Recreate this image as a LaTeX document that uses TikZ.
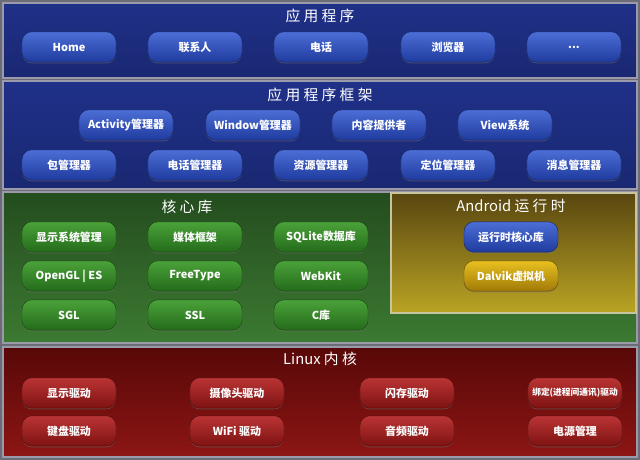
\documentclass[tikz,border=0pt]{standalone}
\usepackage{fontspec}
\setmainfont{Noto Sans CJK SC}
\usetikzlibrary{shadows}
\definecolor{navytop}{HTML}{1F3088}
\definecolor{navybot}{HTML}{1A2872}
\definecolor{frame}{HTML}{9A9AAA}
\definecolor{bluetop}{HTML}{4C6ED6}
\definecolor{bluebot}{HTML}{1F3B9E}
\definecolor{greentop}{HTML}{4BA23A}
\definecolor{greenbot}{HTML}{246B1A}
\definecolor{redtop}{HTML}{BA3434}
\definecolor{redbot}{HTML}{7E1212}
\definecolor{goldtop}{HTML}{E8C020}
\definecolor{goldbot}{HTML}{A07A08}
\tikzset{layer/.style={draw=frame, line width=1.2pt},
  btn/.style={rounded corners=7pt, minimum width=2.35cm, minimum height=0.76cm,
    text=white, font=\fontsize{7.8}{8}\selectfont\bfseries, inner sep=0pt, line width=0.3pt,
    drop shadow={opacity=0.45, shadow xshift=0pt, shadow yshift=-0.8pt}},
  bluebtn/.style={btn, top color=bluetop, bottom color=bluebot, draw=bluebot!60!black},
  greenbtn/.style={btn, top color=greentop, bottom color=greenbot, draw=greenbot!60!black},
  redbtn/.style={btn, top color=redtop, bottom color=redbot, draw=redbot!60!black},
  goldbtn/.style={btn, top color=goldtop, bottom color=goldbot, draw=goldbot!60!black},
  title/.style={text=white, font=\fontsize{10.5}{12}\selectfont}}

\begin{document}
\begin{tikzpicture}[x=0.025cm, y=-0.025cm]
      \fill [frame!70!black] (0, 0) rectangle (640, 460);

      % layers
      \draw [layer, top color=navytop, bottom color=navybot] (3, 3) rectangle (637, 78);
      \draw [layer, top color=navytop, bottom color=navybot] (3, 81) rectangle (637, 189);
      \draw [layer, top color={rgb,255:red,36;green,76;blue,30}, bottom color={rgb,255:red,60;green,122;blue,50}] (3, 192) rectangle (637, 343);
      \draw [draw={rgb,255:red,200;green,196;blue,160}, line width=1.2pt, top color={rgb,255:red,88;green,70;blue,16}, bottom color={rgb,255:red,186;green,164;blue,36}] (391, 193) rectangle (636, 313);
      \draw [layer, top color={rgb,255:red,88;green,8;blue,8}, bottom color={rgb,255:red,140;green,22;blue,20}] (3, 347) rectangle (637, 457);

      \node [title] (tapp) at (320, 16) {应 用 程 序};
      \node (home) [bluebtn] at (69, 47) {Home};
      \node (contacts) [bluebtn] at (195, 47) {联系人};
      \node (phone) [bluebtn] at (321, 47) {电话};
      \node (browser) [bluebtn] at (448, 47) {浏览器};
      \node (more) [bluebtn] at (574, 47) {...};

      \node [title] (tfw) at (320, 95) {应 用 程 序 框 架};
      \node (activity) [bluebtn] at (126, 125) {Activity管理器};
      \node (window) [bluebtn] at (253, 125) {Window管理器};
      \node (provider) [bluebtn] at (379, 125) {内容提供者};
      \node (view) [bluebtn] at (505, 125) {View系统};
      \node (package) [bluebtn] at (69, 165) {包管理器};
      \node (telephony) [bluebtn] at (195, 165) {电话管理器};
      \node (resource) [bluebtn] at (321, 165) {资源管理器};
      \node (location) [bluebtn] at (448, 165) {定位管理器};
      \node (notify) [bluebtn] at (574, 165) {消息管理器};

      \node [title] (tlib) at (187, 207) {核 心 库};
      \node (surface) [greenbtn] at (69, 237) {显示系统管理};
      \node (media) [greenbtn] at (195, 237) {媒体框架};
      \node (sqlite) [greenbtn] at (321, 237) {SQLite数据库};
      \node (opengl) [greenbtn] at (69, 276) {OpenGL | ES};
      \node (freetype) [greenbtn] at (195, 276) {FreeType};
      \node (webkit) [greenbtn] at (321, 276) {WebKit};
      \node (sgl) [greenbtn] at (69, 315) {SGL};
      \node (ssl) [greenbtn] at (195, 315) {SSL};
      \node (libc) [greenbtn] at (321, 315) {C库};

      \node [title] (trt) at (511, 206) {Android 运 行 时};
      \node (corelib) [bluebtn] at (511, 237) {运行时核心库};
      \node (dalvik) [goldbtn] at (511, 276) {Dalvik虚拟机};

      \node [title] (tkernel) at (320, 359) {Linux 内 核};
      \node (display) [redbtn] at (69, 393) {显示驱动};
      \node (camera) [redbtn] at (237, 393) {摄像头驱动};
      \node (flash) [redbtn] at (407, 393) {闪存驱动};
      \node (binder) [redbtn, font=\fontsize{6.2}{7}\selectfont\bfseries] at (575, 393) {绑定(进程间通讯)驱动};
      \node (keypad) [redbtn] at (69, 431) {键盘驱动};
      \node (wifi) [redbtn] at (237, 431) {WiFi 驱动};
      \node (audio) [redbtn] at (407, 431) {音频驱动};
      \node (power) [redbtn] at (575, 431) {电源管理};
    \end{tikzpicture}
\end{document}
